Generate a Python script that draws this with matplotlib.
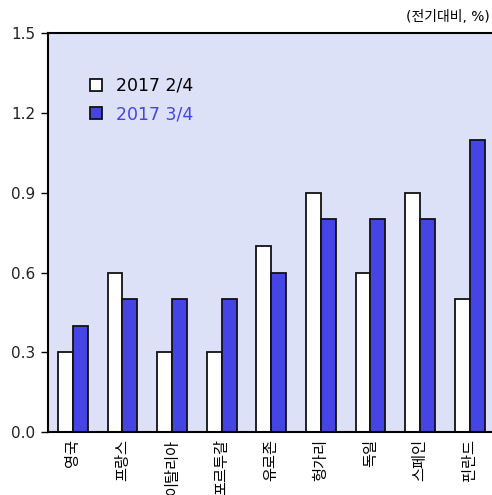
import numpy as np
import matplotlib
matplotlib.use("Agg")
import matplotlib.pyplot as plt

plt.rcParams['font.family'] = ['DejaVu Sans', 'Noto Sans CJK KR']

countries = ['영국', '프랑스', '이탈리아', '포르투갈', '유로존', '헝가리', '독일', '스페인', '핀란드']
q2 = [0.3, 0.6, 0.3, 0.3, 0.7, 0.9, 0.6, 0.9, 0.5]
q3 = [0.4, 0.5, 0.5, 0.5, 0.6, 0.8, 0.8, 0.8, 1.1]
yticks = [0.0, 0.3, 0.6, 0.9, 1.2, 1.5]

blue = '#4545e6'
bg = '#dde1f7'

fig = plt.figure(figsize=(4.92, 4.95), dpi=100)
ax = fig.add_axes([0.0976, 0.127, 0.9024, 0.806])
ax.set_facecolor(bg)

x = np.arange(len(countries))
w = 0.3
ax.bar(x - w/2, q2, w, color='white', edgecolor='#111111', linewidth=1.3, label='2017 2/4')
ax.bar(x + w/2, q3, w, color=blue, edgecolor='#111111', linewidth=1.3, label='2017 3/4')

ax.set_xlim(-0.5, 8.45)
ax.set_ylim(0, 1.5)
ax.set_yticks(yticks)
ax.set_yticklabels(['{:.1f}'.format(v) for v in yticks], fontsize=11, color='#222222')
ax.tick_params(axis='y', direction='out', length=5, width=1, pad=4)
ax.set_xticks(x)
ax.set_xticklabels(countries, rotation=90, fontsize=11, va='top')
ax.tick_params(axis='x', length=0, pad=5)

for side in ['left', 'top', 'bottom']:
    ax.spines[side].set_linewidth(1.5)
ax.spines['right'].set_visible(False)

leg = ax.legend(loc='upper left', bbox_to_anchor=(0.06, 0.93), frameon=False,
                fontsize=12.5, handlelength=0.7, handleheight=0.7, handletextpad=0.8,
                labelspacing=0.6)
leg.get_texts()[1].set_color(blue)

fig.text(0.995, 0.965, '(전기대비, %)', ha='right', va='center', fontsize=10)

fig.savefig('out.png', dpi=100)
